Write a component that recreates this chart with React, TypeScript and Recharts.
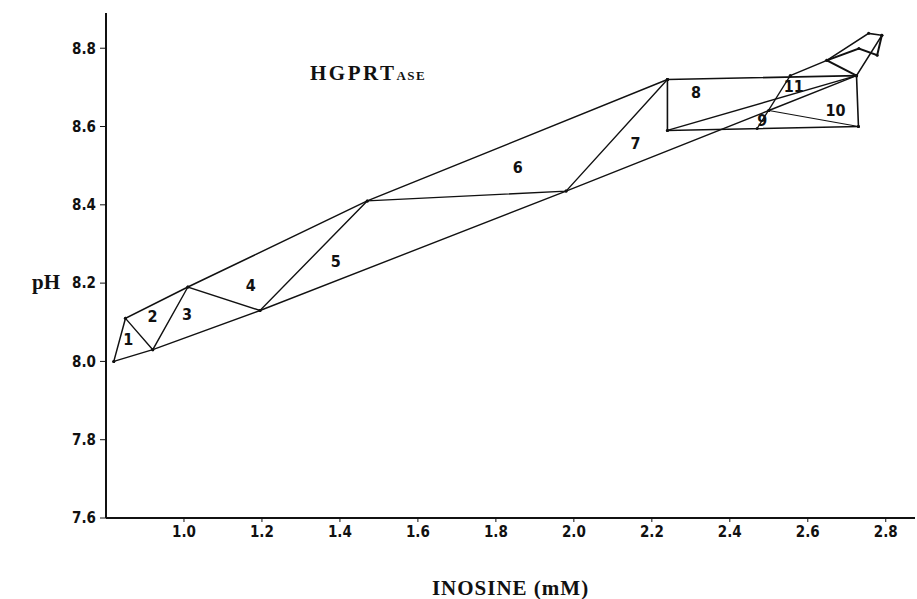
import { ScatterChart, Scatter, XAxis, YAxis } from "recharts";

type Pt = { x: number; y: number };

// inosine (mM) / pH vertices
const lowerEdge: Pt[] = [
  { x: 0.82, y: 8.0 },
  { x: 0.92, y: 8.03 },
  { x: 1.195, y: 8.13 },
  { x: 1.98, y: 8.435 },
  { x: 2.5, y: 8.641 },
  { x: 2.725, y: 8.73 },
];

const upperEdge: Pt[] = [
  { x: 0.82, y: 8.0 },
  { x: 0.85, y: 8.11 },
  { x: 1.01, y: 8.19 },
  { x: 1.47, y: 8.41 },
  { x: 2.24, y: 8.72 },
];

// zig-zag between the two edges (triangles 1-7)
const struts: Pt[] = [
  { x: 0.85, y: 8.11 },
  { x: 0.92, y: 8.03 },
  { x: 1.01, y: 8.19 },
  { x: 1.195, y: 8.13 },
  { x: 1.47, y: 8.41 },
  { x: 1.98, y: 8.435 },
  { x: 2.24, y: 8.72 },
];

const box: Pt[] = [
  { x: 2.24, y: 8.72 },
  { x: 2.725, y: 8.73 },
  { x: 2.73, y: 8.6 },
  { x: 2.24, y: 8.59 },
  { x: 2.24, y: 8.72 },
];

const boxDiagonal: Pt[] = [
  { x: 2.24, y: 8.59 },
  { x: 2.725, y: 8.73 },
];

const crossLine: Pt[] = [
  { x: 2.47, y: 8.595 },
  { x: 2.555, y: 8.73 },
];

const tenEdge: Pt[] = [
  { x: 2.5, y: 8.641 },
  { x: 2.73, y: 8.6 },
];

const finOuter: Pt[] = [
  { x: 2.555, y: 8.73 },
  { x: 2.649, y: 8.769 },
  { x: 2.756, y: 8.838 },
  { x: 2.79, y: 8.833 },
  { x: 2.725, y: 8.73 },
];

const finInner: Pt[] = [
  { x: 2.725, y: 8.73 },
  { x: 2.649, y: 8.769 },
  { x: 2.731, y: 8.799 },
  { x: 2.778, y: 8.782 },
  { x: 2.79, y: 8.833 },
];

const regionLabels = [
  { x: 0.857, y: 8.055, label: "1" },
  { x: 0.919, y: 8.114, label: "2" },
  { x: 1.008, y: 8.119, label: "3" },
  { x: 1.171, y: 8.195, label: "4" },
  { x: 1.389, y: 8.255, label: "5" },
  { x: 1.856, y: 8.496, label: "6" },
  { x: 2.158, y: 8.557, label: "7" },
  { x: 2.313, y: 8.686, label: "8" },
  { x: 2.483, y: 8.616, label: "9" },
  { x: 2.671, y: 8.642, label: "10" },
  { x: 2.564, y: 8.701, label: "11" },
];

const xTicks = [1.0, 1.2, 1.4, 1.6, 1.8, 2.0, 2.2, 2.4, 2.6, 2.8];
const yTicks = [7.6, 7.8, 8.0, 8.2, 8.4, 8.6, 8.8];

const INK = "#111";
const NARROW = "'Liberation Sans Narrow', 'DejaVu Sans Condensed', sans-serif";
const SERIF = "'Liberation Serif', 'DejaVu Serif', serif";

const tickStyle = { fontSize: 15, fontWeight: 700, fill: INK, fontFamily: NARROW };

const dot = (props: any) => <circle cx={props.cx} cy={props.cy} r={1.5} fill={INK} />;

const polylines = [
  { name: "lower", data: lowerEdge, w: 1.4 },
  { name: "upper", data: upperEdge, w: 1.5 },
  { name: "struts", data: struts, w: 1.4 },
  { name: "box", data: box, w: 1.6 },
  { name: "boxDiag", data: boxDiagonal, w: 1.4 },
  { name: "cross", data: crossLine, w: 1.3 },
  { name: "ten", data: tenEdge, w: 1.2 },
  { name: "finOuter", data: finOuter, w: 1.6 },
  { name: "finInner", data: finInner, w: 2 },
];

export default function App() {
  return (
    <div style={{ position: "absolute", left: 0, top: 0, width: 917, height: 599, background: "#fff" }}>
      <ScatterChart width={917} height={599} margin={{ top: 13, right: 2, bottom: 0, left: 0 }}>
        <XAxis
          type="number"
          dataKey="x"
          domain={[0.8, 2.875]}
          ticks={xTicks}
          tickFormatter={(v: number) => v.toFixed(1)}
          tick={tickStyle}
          tickSize={4}
          tickMargin={4}
          height={81}
          axisLine={{ stroke: INK, strokeWidth: 2 }}
          tickLine={{ stroke: INK }}
          allowDataOverflow
          label={{
            value: "INOSINE (mM)",
            position: "insideBottom",
            offset: 4,
            style: { fontSize: 21, fontWeight: 700, fill: INK, fontFamily: SERIF, letterSpacing: 1 },
          }}
        />
        <YAxis
          type="number"
          dataKey="y"
          domain={[7.6, 8.89]}
          ticks={yTicks}
          tickFormatter={(v: number) => v.toFixed(1)}
          tick={tickStyle}
          tickSize={6}
          tickMargin={4}
          width={106}
          axisLine={{ stroke: INK, strokeWidth: 2 }}
          tickLine={{ stroke: INK }}
          allowDataOverflow
          label={{
            value: "pH",
            position: "insideLeft",
            offset: 32,
            dy: 16,
            style: { fontSize: 21, fontWeight: 700, fill: INK, fontFamily: SERIF },
          }}
        />
        {polylines.map((p) => (
          <Scatter
            key={p.name}
            name={p.name}
            data={p.data}
            line={{ stroke: INK, strokeWidth: p.w }}
            lineType="joint"
            shape={dot}
            isAnimationActive={false}
          />
        ))}
        <Scatter
          name="labels"
          data={regionLabels}
          isAnimationActive={false}
          shape={(props: any) => (
            <text
              x={props.cx}
              y={props.cy}
              textAnchor="middle"
              dominantBaseline="central"
              fontSize={16}
              fontWeight={700}
              fontFamily={NARROW}
              fill={INK}
            >
              {props.payload.label}
            </text>
          )}
        />
      </ScatterChart>
      <div
        style={{
          position: "absolute",
          left: 310,
          top: 60,
          fontFamily: SERIF,
          fontWeight: 700,
          color: INK,
          fontSize: 21,
          letterSpacing: 2.5,
          lineHeight: "26px",
          whiteSpace: "nowrap",
        }}
      >
        HGPRT<span style={{ fontSize: 13, letterSpacing: 1.5 }}>ASE</span>
      </div>
    </div>
  );
}
